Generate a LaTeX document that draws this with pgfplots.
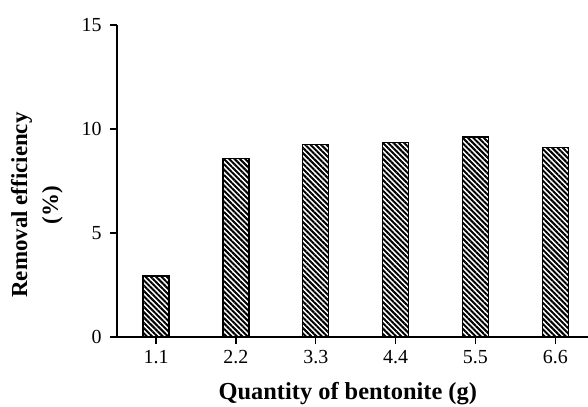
\documentclass[border=0pt]{standalone}
\usepackage{pgfplots}
\pgfplotsset{compat=1.18}
\usetikzlibrary{patterns.meta}
\usepackage{fontspec}
\setmainfont{Liberation Serif}
\begin{document}
\begin{tikzpicture}
\useasboundingbox (-117bp,-70bp) rectangle (471bp,337bp);
\begin{axis}[
  scale only axis, width=471bp, height=312bp,
  xmin=-0.49, xmax=5.41, ymin=0, ymax=15,
  axis x line*=bottom, axis y line*=left,
  axis line style={line width=1.5bp, black},
  xtick={0,1,2,3,4,5}, xticklabels={1.1,2.2,3.3,4.4,5.5,6.6},
  ytick={0,5,10,15},
  tick align=outside,
  major tick length=7bp,
  major tick style={black, line width=1.3bp},
  /pgf/number format/assume math mode=true,
  xticklabel style={font=\fontsize{20}{20}\selectfont, yshift=-3bp},
  yticklabel style={font=\fontsize{20}{20}\selectfont, xshift=-5bp},
  xlabel={\textbf{Quantity of bentonite (g)}},
  ylabel={\textbf{Removal efficiency}\\\textbf{(\%)}},
  xlabel style={font=\fontsize{24.5}{26}\selectfont, at={(axis description cs:0.49,-0.182)}, anchor=center},
  ylabel style={font=\fontsize{23}{31}\selectfont, at={(axis description cs:-0.170,0.423)}, anchor=center, align=center},
]
\addplot[ybar, bar width=0.325, draw=black, line width=1.3bp, fill=white,
  postaction={pattern={Lines[angle=-45,distance=3.75bp,line width=2bp]}}]
  coordinates {(0,2.93) (1,8.59) (2,9.26) (3,9.36) (4,9.62) (5,9.10)};
\end{axis}
\end{tikzpicture}
\end{document}
